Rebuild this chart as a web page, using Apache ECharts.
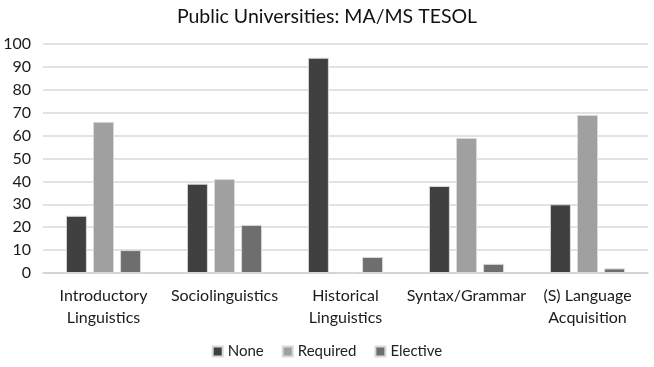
<!DOCTYPE html>
<html>
<head>
<meta charset="utf-8">
<script src="https://cdn.jsdelivr.net/npm/echarts@6/dist/echarts.min.js"></script>
<style>
  html, body { margin: 0; padding: 0; background: #fff; }
  #chart { width: 654px; height: 367px; }
</style>
</head>
<body>
<div id="chart"></div>
<script>
const categories = ['Introductory\nLinguistics', 'Sociolinguistics', 'Historical\nLinguistics', 'Syntax/Grammar', '(S) Language\nAcquisition']
const noneValues = [25, 39, 94, 38, 30]
const requiredValues = [66, 41, 0, 59, 69]
const electiveValues = [10, 21, 7, 4, 2]
const yTicks = { min: 0, max: 100, interval: 10 }

const font = 'Lato, "Open Sans", sans-serif'
const chart = echarts.init(document.getElementById('chart'))

function bar(name, data, color) {
  return {
    name,
    type: 'bar',
    data,
    barWidth: 21,
    barGap: '29%',
    itemStyle: { color, borderColor: '#d9d9d9', borderWidth: 1 },
  }
}

chart.setOption({
  animation: false,
  title: {
    text: 'Public Universities: MA/MS TESOL',
    left: 'center',
    top: 2,
    textStyle: { fontFamily: font, fontSize: 19.5, fontWeight: 'normal', color: '#111' },
  },
  grid: { left: 43, right: 6, top: 44, bottom: 94 },
  legend: {
    bottom: 3,
    left: 'center',
    itemWidth: 10,
    itemHeight: 10,
    itemGap: 18,
    icon: 'rect',
    textStyle: { fontFamily: font, fontSize: 15, color: '#222' },
    data: ['None', 'Required', 'Elective'],
  },
  xAxis: {
    type: 'category',
    data: categories,
    axisLine: { lineStyle: { color: '#d0d0d0', width: 1.5 } },
    axisTick: { show: false },
    axisLabel: { fontFamily: font, fontSize: 16, color: '#1a1a1a', lineHeight: 22, margin: 12, interval: 0 },
  },
  yAxis: {
    type: 'value',
    min: yTicks.min,
    max: yTicks.max,
    interval: yTicks.interval,
    axisLine: { show: false },
    axisTick: { show: false },
    axisLabel: { fontFamily: font, fontSize: 16, color: '#1a1a1a', margin: 12 },
    splitLine: { lineStyle: { color: '#d9d9d9', width: 1.5 } },
  },
  series: [
    bar('None', noneValues, '#404040'),
    bar('Required', requiredValues, '#a0a0a0'),
    bar('Elective', electiveValues, '#6e6e6e'),
  ],
})
</script>
</body>
</html>
